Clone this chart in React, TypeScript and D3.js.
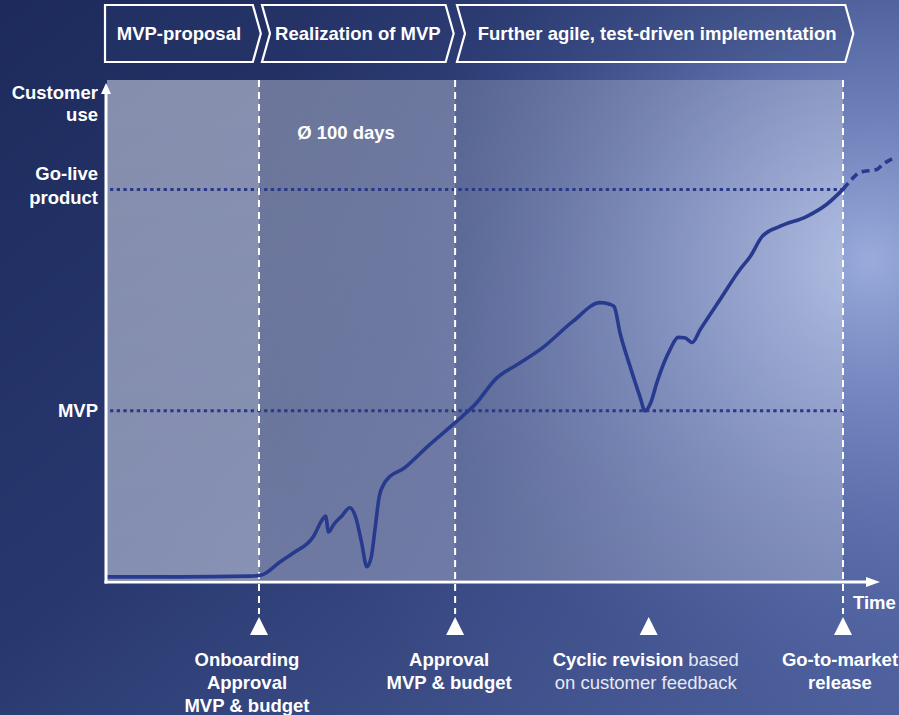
import React from 'react';
import * as d3 from 'd3';

const W = 899;
const H = 715;

// time (0 = start, 100 = go-to-market), customer use (100 = go-live product)
const curveSolid: [number, number][] = [
  [0.1, 0.8], [10, 0.8], [19.5, 1.0], [21.0, 1.3], [23.5, 4.6], [25.3, 6.9], [28.0, 11.0],
  [29.3, 15.6], [29.7, 16.4], [30.1, 12.3], [30.8, 14.2], [31.9, 16.4], [33.0, 18.5],
  [33.8, 16.0], [34.6, 9.5], [35.3, 3.4], [35.9, 5.8], [36.4, 12.8], [37.0, 21.5],
  [37.6, 24.5], [38.5, 26.6], [40.2, 28.4], [43.5, 34.1], [47.3, 40.3], [50.0, 44.9],
  [53.0, 51.8], [55.7, 55.1], [59.2, 59.5], [63.3, 66.2], [67.0, 71.0], [68.3, 70.6],
  [68.9, 70.0], [69.7, 63.3], [71.1, 54.5], [72.4, 47.0], [73.1, 43.3], [73.9, 45.5],
  [74.7, 50.5], [76.5, 59.0], [77.6, 62.1], [78.5, 62.0], [79.5, 60.8], [80.6, 64.1],
  [83.3, 71.8], [86.0, 79.5], [87.4, 82.8], [89.0, 87.9], [91.4, 90.5], [95.1, 93.1],
  [97.8, 96.2], [100, 100],
];
const curveDashed: [number, number][] = [
  [100, 100], [101.2, 102.6], [102.3, 104.4], [104.6, 105.1], [105.4, 106.4], [107.1, 108.2],
];

const phaseNames = ['MVP-proposal', 'Realization of MVP', 'Further agile, test-driven implementation'];
const phaseStart = [-0.27, 21.06, 47.55];
const phaseEnd = [20.9, 47.1, 101.4];

const regionStart = [0, 20.65, 47.3];
const regionEnd = [20.65, 47.3, 100];

const milestoneTimes = [20.65, 47.3, 73.6, 100];
const milestoneHasLine = [true, true, false, true];
type Seg = { t: string; b: boolean };
const milestoneLabels: Seg[][][] = [
  [[{ t: 'Onboarding', b: true }], [{ t: 'Approval', b: true }], [{ t: 'MVP & budget', b: true }]],
  [[{ t: 'Approval', b: true }], [{ t: 'MVP & budget', b: true }]],
  [[{ t: 'Cyclic revision', b: true }, { t: ' based', b: false }], [{ t: 'on customer feedback', b: false }]],
  [[{ t: 'Go-to-market', b: true }], [{ t: 'release', b: true }]],
];

const levelNames = [['MVP'], ['Go-live', 'product']];
const levelValues = [43.3, 100];

const FONT = "'Liberation Sans', Arial, sans-serif";

export default function App() {
  const x = d3.scaleLinear().domain([0, 100]).range([107, 843]);
  const y = d3.scaleLinear().domain([0, 128]).range([580, 80]);
  const line = d3
    .line<[number, number]>()
    .x((d) => x(d[0]))
    .y((d) => y(d[1]))
    .curve(d3.curveMonotoneX);

  const axisY = 582;
  const axisX = 106;
  const regionFills = ['url(#r1)', 'url(#r2)', 'url(#r3)'];
  const labelDx = [-12, -6, -3, -3];
  const labelFs = [18.5, 18.5, 18.5, 18.5];
  const fs = 18.5;

  return (
    <svg width={W} height={H} style={{ position: 'absolute', left: 0, top: 0 }} fontFamily={FONT}>
      <defs>
        <linearGradient id="bgLin" x1="0" y1="0" x2="1" y2="1">
          <stop offset="0" stopColor="#1d2a5b" />
          <stop offset="0.45" stopColor="#28386f" />
          <stop offset="1" stopColor="#4f619d" />
        </linearGradient>
        <radialGradient id="bgRad" gradientUnits="userSpaceOnUse" cx="870" cy="260" r="620">
          <stop offset="0" stopColor="#9fb0e0" stopOpacity="0.95" />
          <stop offset="0.35" stopColor="#7b8ecb" stopOpacity="0.6" />
          <stop offset="0.75" stopColor="#4a5d9e" stopOpacity="0.2" />
          <stop offset="1" stopColor="#4a5d9e" stopOpacity="0" />
        </radialGradient>
        <linearGradient id="r1" x1="0" y1="0" x2="0" y2="1">
          <stop offset="0" stopColor="#eceffa" stopOpacity="0.5" />
          <stop offset="1" stopColor="#eceffa" stopOpacity="0.47" />
        </linearGradient>
        <linearGradient id="r2" x1="0" y1="0" x2="1" y2="1">
          <stop offset="0" stopColor="#e6e8f2" stopOpacity="0.38" />
          <stop offset="1" stopColor="#e6e8f2" stopOpacity="0.31" />
        </linearGradient>
        <linearGradient id="r3" x1="0" y1="0" x2="1" y2="0">
          <stop offset="0" stopColor="#ffffff" stopOpacity="0.2" />
          <stop offset="1" stopColor="#ffffff" stopOpacity="0.25" />
        </linearGradient>
      </defs>

      <rect x={0} y={0} width={W} height={H} fill="url(#bgLin)" />
      <rect x={0} y={0} width={W} height={H} fill="url(#bgRad)" />

      {/* plot regions */}
      {regionStart.map((s, i) => (
        <rect
          key={'reg' + i}
          x={x(s)}
          y={y(128)}
          width={x(regionEnd[i]) - x(s)}
          height={y(0) - y(128)}
          fill={regionFills[i]}
        />
      ))}

      {/* phase banner */}
      {phaseNames.map((name, i) => {
        const l = x(phaseStart[i]);
        const tip = x(phaseEnd[i]);
        const d = 8;
        const top = 5;
        const bot = 62;
        const mid = (top + bot) / 2;
        const pts =
          i === 0
            ? [[l, top], [tip - d, top], [tip, mid], [tip - d, bot], [l, bot]]
            : [[l, top], [tip - d, top], [tip, mid], [tip - d, bot], [l, bot], [l + d, mid]];
        return (
          <g key={'ph' + i}>
            <polygon
              points={pts.map((p) => p.join(',')).join(' ')}
              fill="#2a3a70"
              fillOpacity={0.3}
              stroke="#ffffff"
              strokeWidth={2.2}
              strokeLinejoin="miter"
            />
            <text
              x={(l + (i === 0 ? 0 : d) + tip - d) / 2 + (i === 2 ? 2 : 0)}
              y={mid + 6.5}
              textAnchor="middle"
              fill="#ffffff"
              fontWeight="bold"
              fontSize={fs}
            >
              {name}
            </text>
          </g>
        );
      })}

      {/* level dotted lines */}
      {levelValues.map((v, i) => (
        <line
          key={'lv' + i}
          x1={x(0) + 3}
          x2={x(100)}
          y1={y(v)}
          y2={y(v)}
          stroke="#2a3987"
          strokeWidth={3}
          strokeDasharray="3.3 3.4"
        />
      ))}

      {/* milestone dashed lines */}
      {milestoneTimes.map((t, i) =>
        milestoneHasLine[i] ? (
          <line
            key={'ml' + i}
            x1={x(t)}
            x2={x(t)}
            y1={y(128)}
            y2={614}
            stroke="#ffffff"
            strokeWidth={2}
            strokeDasharray="7 5"
          />
        ) : null
      )}

      {/* curve */}
      <path d={line(curveSolid) || ''} fill="none" stroke="#283a8e" strokeWidth={3.6} strokeLinejoin="round" strokeLinecap="round" />
      <path d={line(curveDashed) || ''} fill="none" stroke="#283a8e" strokeWidth={3.6} strokeDasharray="8 5" />

      {/* axes */}
      <line x1={axisX} x2={axisX} y1={axisY + 1.5} y2={92} stroke="#ffffff" strokeWidth={3} />
      <polygon points={`${axisX - 5},${94} ${axisX + 5},${94} ${axisX},${83}`} fill="#ffffff" />
      <line x1={axisX - 1.5} x2={868} y1={axisY} y2={axisY} stroke="#ffffff" strokeWidth={3} />
      <polygon points={`${866},${axisY - 5} ${866},${axisY + 5} ${880},${axisY}`} fill="#ffffff" />

      {/* axis labels */}
      <text x={98} y={99} textAnchor="end" fill="#ffffff" fontWeight="bold" fontSize={fs}>Customer</text>
      <text x={98} y={121} textAnchor="end" fill="#ffffff" fontWeight="bold" fontSize={fs}>use</text>
      <text x={853} y={609} fill="#ffffff" fontWeight="bold" fontSize={fs}>Time</text>

      {/* level labels */}
      {levelNames.map((lines, i) => {
        const cy = y(levelValues[i]);
        const base = lines.length === 1 ? cy + 6.5 : cy - 9;
        return lines.map((ln, j) => (
          <text key={'ll' + i + j} x={98} y={base + j * 24} textAnchor="end" fill="#ffffff" fontWeight="bold" fontSize={fs}>
            {ln}
          </text>
        ));
      })}

      {/* duration */}
      <text x={(x(20.65) + x(47.3)) / 2 - 11} y={139} textAnchor="middle" fill="#ffffff" fontWeight="bold" fontSize={fs}>
        Ø 100 days
      </text>

      {/* milestones */}
      {milestoneTimes.map((t, i) => {
        const cx = x(t);
        return (
          <g key={'ms' + i}>
            <polygon points={`${cx - 9},635 ${cx + 9},635 ${cx},617`} fill="#ffffff" />
            {milestoneLabels[i].map((segs, j) => (
              <text key={j} x={cx + labelDx[i]} y={666 + j * 23} textAnchor="middle" fill="#ffffff" fontSize={labelFs[i]}>
                {segs.map((s, k) => (
                  <tspan key={k} fontWeight={s.b ? 'bold' : 'normal'} fill={s.b ? '#ffffff' : '#e6e9f4'}>
                    {s.t}
                  </tspan>
                ))}
              </text>
            ))}
          </g>
        );
      })}
    </svg>
  );
}
